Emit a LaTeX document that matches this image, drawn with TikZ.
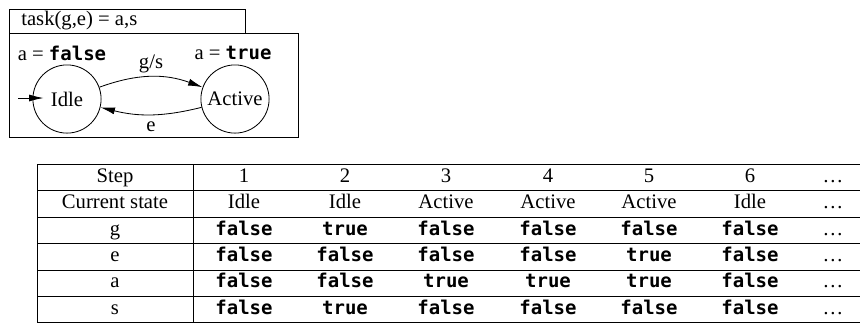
\documentclass[tikz,border=0pt]{standalone}
\usepackage{fontspec}
\setmainfont{Liberation Serif}
\setmonofont{DejaVu Sans Mono}[Scale=0.92]
\usetikzlibrary{positioning, calc, arrows.meta}
\newcommand{\kw}[1]{\texttt{\bfseries #1}}
\newcommand{\valF}{\kw{false}}
\newcommand{\valT}{\kw{true}}

\begin{document}
\begin{tikzpicture}[x=0.484pt, y=-0.484pt, >={Latex[length=7pt, width=3.4pt]},
        state/.style={draw, circle, minimum size=33pt, inner sep=0pt}]
        \useasboundingbox (0,0) rectangle (860,323);
        % the task and its automaton
        \draw (9,9) rectangle (245,33);
        \path (14,21) node[right](Task){task(g,e) = a,s};
        \draw (9,33) rectangle (298,137);
        \path (67,99) node[state](Idle){Idle};
        \path (235,99) node[state](Active){Active};
        \path (62,53) node(IdleOut){a = \valF};
        \path (233,53) node(ActiveOut){a = \valT};
        \coordinate (Start) at (18,98);
        \draw[->] (Start) -- ($(Idle.west) + (11,-1)$);
        \draw[->] (Idle) to[bend left=20]
            node[midway, above, inner sep=1.5pt] {g/s} (Active);
        \draw[->] (Active) to[bend left=14]
            node[midway, below] {e} (Idle);
        % the trace table
        \foreach \y in {164.3,190.7,217,243.3,270,296.3,322}
            \draw (37,\y) -- (860,\y);
        \draw (37,164.3) -- (37,322);
        \draw (193,164.3) -- (193,322);
        \foreach \row [count=\r from 0] in {
            {Step,1,2,3,4,5,6,\dots},
            {Current state,Idle,Idle,Active,Active,Active,Idle,\dots},
            {g,\valF,\valT,\valF,\valF,\valF,\valF,\dots},
            {e,\valF,\valF,\valF,\valF,\valT,\valF,\dots},
            {a,\valF,\valF,\valT,\valT,\valT,\valF,\dots},
            {s,\valF,\valT,\valF,\valF,\valF,\valF,\dots}} {
            \foreach \cell [count=\c from 0] in \row {
                \pgfmathsetmacro\cx{{115,244,345,446,548,649,750,833}[\c]}
                \pgfmathsetmacro\cy{164.3+26.28*\r+18.4}
                \path (\cx,\cy) node[anchor=base](Cell-\r-\c){\cell};
            }
        }
    \end{tikzpicture}
\end{document}
